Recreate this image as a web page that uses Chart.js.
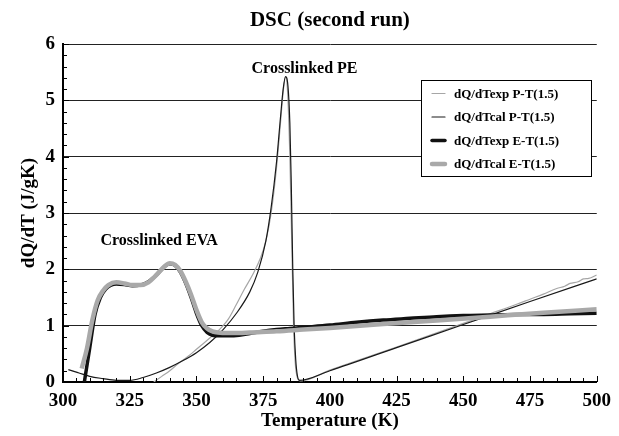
<!DOCTYPE html>
<html><head><meta charset="utf-8">
<script src="https://cdn.jsdelivr.net/npm/chart.js@4/dist/chart.umd.min.js"></script>
<style>html,body{margin:0;padding:0;background:#fff}#wrap{width:619px;height:436px;position:relative}</style>
</head><body><div id="wrap"><canvas id="c" width="619" height="436"></canvas></div>
<script>
// ---- data ----
const chartTitle = "DSC (second run)";
const xTitle = "Temperature (K)";
const yTitle = "dQ/dT (J/gK)";
const xTickValues = [300, 325, 350, 375, 400, 425, 450, 475, 500];
const yTickValues = [0, 1, 2, 3, 4, 5, 6];
const seriesLabels = ["dQ/dTexp P-T(1.5)", "dQ/dTcal P-T(1.5)", "dQ/dTexp E-T(1.5)", "dQ/dTcal E-T(1.5)"];
const annotations = ["Crosslinked PE", "Crosslinked EVA"];

const peExpT = [334, 337, 340, 343, 347, 350, 355, 358, 362, 365, 368, 371, 374, 376, 378, 380, 381.5, 382.5, 383.4, 384.2, 385, 385.7, 386.4, 387, 387.8, 389, 400, 425, 450, 460, 470, 475, 480, 485, 488, 490, 493, 495, 497, 500];
const peExpV = [0.0, 0.1, 0.2, 0.32, 0.46, 0.58, 0.78, 0.9, 1.12, 1.38, 1.65, 1.9, 2.2, 2.5, 3.0, 3.8, 4.6, 5.15, 5.42, 5.1, 4.0, 2.5, 1.0, 0.35, 0.08, 0.02, 0.21, 0.62, 1.04, 1.21, 1.38, 1.47, 1.56, 1.66, 1.7, 1.75, 1.78, 1.83, 1.84, 1.9];

const peCalT = [302, 306, 310, 315, 320, 325, 330, 335, 340, 345, 350, 355, 360, 365, 370, 373, 376, 378, 380, 381.5, 382.5, 383.4, 384.3, 385, 385.5, 386.1, 386.6, 387.2, 387.8, 388.6, 400, 425, 450, 475, 500];
const peCalV = [0.22, 0.16, 0.1, 0.06, 0.03, 0.03, 0.08, 0.16, 0.26, 0.38, 0.52, 0.7, 0.93, 1.22, 1.6, 1.95, 2.5, 3.1, 3.9, 4.7, 5.2, 5.42, 5.25, 4.6, 3.6, 2.0, 1.0, 0.4, 0.12, 0.03, 0.2, 0.61, 1.02, 1.43, 1.83];

const evaExpT = [308, 310, 312, 314, 316, 318, 320, 323, 326, 329, 332, 335, 338, 340, 342, 344, 346, 348, 350, 352, 354, 356, 358, 362, 366, 370, 375, 380, 385, 390, 400, 410, 420, 430, 440, 450, 460, 470, 480, 490, 500];
const evaExpV = [0.0, 0.6, 1.2, 1.5, 1.65, 1.72, 1.74, 1.73, 1.71, 1.72, 1.78, 1.9, 2.05, 2.1, 2.07, 1.95, 1.75, 1.5, 1.22, 1.0, 0.88, 0.83, 0.82, 0.82, 0.83, 0.86, 0.9, 0.93, 0.95, 0.97, 1.01, 1.06, 1.1, 1.13, 1.16, 1.18, 1.19, 1.2, 1.2, 1.21, 1.22];

const evaCalT = [307, 309, 311, 313, 315, 317, 320, 323, 326, 329, 332, 335, 338, 340, 342, 344, 346, 348, 350, 352, 354, 356, 358, 362, 366, 370, 380, 390, 400, 420, 440, 460, 480, 500];
const evaCalV = [0.24, 0.6, 1.1, 1.45, 1.62, 1.72, 1.77, 1.75, 1.72, 1.72, 1.77, 1.9, 2.05, 2.11, 2.08, 1.97, 1.78, 1.55, 1.28, 1.06, 0.95, 0.9, 0.88, 0.87, 0.87, 0.88, 0.9, 0.93, 0.96, 1.03, 1.09, 1.16, 1.23, 1.29];

// ---- styles ----
const FONT = "'Liberation Serif', 'Times New Roman', serif";
const styles = [
  {color: '#a6a6a6', width: 1.2, order: 3},
  {color: '#1a1a1a', width: 1.2, order: 2},
  {color: '#111111', width: 3.5, order: 1},
  {color: '#a9a9a9', width: 4.5, order: 0}
];
const seriesT = [peExpT, peCalT, evaExpT, evaCalT];
const seriesV = [peExpV, peCalV, evaExpV, evaCalV];

const datasets = seriesLabels.map((lab, i) => ({
  label: lab,
  data: seriesT[i].map((t, k) => ({x: t, y: seriesV[i][k]})),
  borderColor: styles[i].color,
  backgroundColor: styles[i].color,
  borderWidth: styles[i].width,
  pointRadius: 0,
  fill: false,
  cubicInterpolationMode: 'monotone',
  order: styles[i].order
}));

const decor = {
  id: 'decor',
  afterDraw(chart) {
    const {ctx, chartArea: a, scales: {x, y}} = chart;
    ctx.save();
    // inward tick marks
    ctx.strokeStyle = '#000'; ctx.lineWidth = 1;
    ctx.beginPath();
    for (let v = xTickValues[0]; v <= xTickValues[xTickValues.length - 1]; v += 5) {
      const px = Math.round(x.getPixelForValue(v)) + 0.5;
      const len = xTickValues.includes(v) ? 6 : 4;
      ctx.moveTo(px, a.bottom); ctx.lineTo(px, a.bottom - len);
    }
    for (let k = 0; k <= 30; k++) {
      const v = k / 5;
      const py = Math.round(y.getPixelForValue(v)) + 0.5;
      const len = (k % 5 === 0) ? 6 : 4;
      ctx.moveTo(a.left, py); ctx.lineTo(a.left + len, py);
    }
    ctx.stroke();
    // title
    ctx.fillStyle = '#000';
    ctx.textAlign = 'center'; ctx.textBaseline = 'middle';
    ctx.font = "bold 21px " + FONT;
    ctx.fillText(chartTitle, (a.left + a.right) / 2, 21);
    // annotations
    ctx.font = "bold 16px " + FONT;
    ctx.fillText(annotations[0], x.getPixelForValue(390.5), y.getPixelForValue(5.55));
    ctx.fillText(annotations[1], x.getPixelForValue(336), y.getPixelForValue(2.5));
    // legend
    const lx = 421, ly = 80, lw = 170, lh = 96;
    ctx.fillStyle = '#fff';
    ctx.fillRect(lx, ly, lw, lh);
    ctx.strokeStyle = '#000'; ctx.lineWidth = 1;
    ctx.strokeRect(lx + 0.5, ly + 0.5, lw, lh);
    ctx.font = "bold 13px " + FONT;
    ctx.textAlign = 'left';
    chart.data.datasets.forEach((ds, i) => {
      const cy = 93.5 + i * 23.5;
      ctx.strokeStyle = ds.borderColor;
      ctx.lineWidth = ds.borderWidth;
      ctx.lineCap = 'round';
      ctx.beginPath(); ctx.moveTo(432, cy); ctx.lineTo(445, cy); ctx.stroke();
      ctx.fillStyle = '#000';
      ctx.fillText(ds.label, 454, cy + 1);
    });
    ctx.restore();
  }
};

new Chart(document.getElementById('c'), {
  type: 'line',
  data: {datasets},
  options: {
    responsive: false,
    animation: false,
    devicePixelRatio: 1,
    layout: {padding: {top: 44, right: 16, bottom: 0, left: 0}},
    plugins: {legend: {display: false}, title: {display: false}, tooltip: {enabled: false}},
    scales: {
      x: {
        type: 'linear', min: 300, max: 500,
        afterBuildTicks: s => { s.ticks = xTickValues.map(v => ({value: v})); },
        afterFit: s => { s.height = 54; },
        grid: {display: true, drawOnChartArea: false, drawTicks: false},
        border: {display: true, color: '#000', width: 2},
        ticks: {padding: 8, color: '#000', maxRotation: 0, font: {family: FONT, size: 19, weight: 'bold'}},
        title: {display: true, text: xTitle, color: '#000', padding: {top: 0, bottom: 4}, font: {family: FONT, size: 19, weight: 'bold'}}
      },
      y: {
        min: 0, max: 6,
        afterBuildTicks: s => { s.ticks = yTickValues.map(v => ({value: v})); },
        afterFit: s => { s.width = 63; },
        grid: {color: ctx => ctx.tick && ctx.tick.value === 0 ? 'rgba(0,0,0,0)' : '#222', lineWidth: 1, drawTicks: false},
        border: {display: true, color: '#000', width: 2},
        ticks: {padding: 8, color: '#000', font: {family: FONT, size: 19, weight: 'bold'}},
        title: {display: true, text: yTitle, color: '#000', padding: {top: 18, bottom: 0}, font: {family: FONT, size: 19, weight: 'bold'}}
      }
    }
  },
  plugins: [decor]
});
</script></body></html>
